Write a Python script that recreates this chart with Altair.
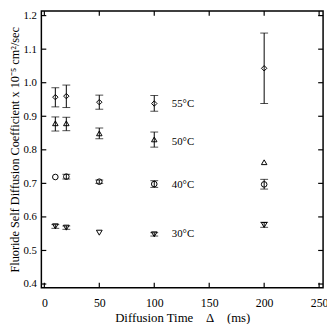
import altair as alt
import pandas as pd

# ---- data ----
times = [10, 20, 50, 100, 200]
series_names = ["55°C", "50°C", "40°C", "30°C"]
shapes = ["diamond", "triangle-up", "circle", "triangle-down"]
sizes = [30, 34, 16, 24]

y55 = [0.957, 0.960, 0.942, 0.938, 1.043]
lo55 = [0.928, 0.926, 0.921, 0.915, 0.938]
hi55 = [0.985, 0.993, 0.963, 0.962, 1.148]

y50 = [0.879, 0.879, 0.849, 0.831, 0.763]
lo50 = [0.856, 0.857, 0.833, 0.808, 0.763]
hi50 = [0.898, 0.897, 0.865, 0.853, 0.763]

y40 = [0.719, 0.720, 0.705, 0.698, 0.697]
lo40 = [0.719, 0.713, 0.700, 0.688, 0.683]
hi40 = [0.719, 0.727, 0.710, 0.708, 0.712]

y30 = [0.572, 0.568, 0.553, 0.548, 0.576]
lo30 = [0.566, 0.563, 0.553, 0.543, 0.569]
hi30 = [0.577, 0.573, 0.553, 0.553, 0.584]

label_x = 116
label_y = [0.935, 0.823, 0.695, 0.548]

x_ticks = [0, 50, 100, 150, 200, 250]
y_ticks = [0.4, 0.5, 0.6, 0.7, 0.8, 0.9, 1.0, 1.1, 1.2]

x_domain = [-2.7, 253.6]
y_domain = [0.389, 1.214]

# ---- build tables ----
rows = []
for name, ys_, los, his in zip(series_names, [y55, y50, y40, y30],
                               [lo55, lo50, lo40, lo30], [hi55, hi50, hi40, hi30]):
    for t, v, lo, hi in zip(times, ys_, los, his):
        rows.append({"series": name, "t": t, "v": v, "lo": lo, "hi": hi,
                     "has_err": hi - lo > 0.002})
df = pd.DataFrame(rows)
err = df[df["has_err"]]

labels = pd.DataFrame({"series": series_names, "t": [label_x] * 4, "v": label_y})
xt = pd.DataFrame({"t": x_ticks})
yt = pd.DataFrame({"v": y_ticks})

FONT = "Liberation Serif"
H = 282
W = 287
TL = 5
NB = "\u00a0"

xs = alt.Scale(domain=x_domain, nice=False, zero=False)
ys = alt.Scale(domain=y_domain, nice=False, zero=False)

x_axis = alt.Axis(values=x_ticks, ticks=False, domain=False, grid=False,
                  labelOverlap=False, labelFont=FONT, labelFontSize=12,
                  labelPadding=10, labelColor="black", titleFont=FONT,
                  titleFontSize=13, titleFontWeight="normal",
                  titleColor="black", titlePadding=3)
y_axis = alt.Axis(values=y_ticks, ticks=False, domain=False, grid=False,
                  labelOverlap=False, format=".1f", labelFont=FONT,
                  labelFontSize=11, labelPadding=5, labelColor="black",
                  titleFont=FONT, titleFontSize=12.5, titleFontWeight="normal",
                  titleColor="black", titlePadding=2)
x_title = "Diffusion Time" + NB * 4 + "Δ" + NB * 4 + "(ms)"
y_title = "Fluoride Self Diffusion Coefficient x 10⁻⁵ cm²/sec"


def X(field):
    return alt.X(field, scale=xs, axis=x_axis, title=x_title)


def Y(field):
    return alt.Y(field, scale=ys, axis=y_axis, title=y_title)


points = alt.Chart(df).mark_point(filled=False, color="black", strokeWidth=1, opacity=1).encode(
    x=X("t:Q"), y=Y("v:Q"),
    shape=alt.Shape("series:N", scale=alt.Scale(domain=series_names, range=shapes), legend=None),
    size=alt.Size("series:N", scale=alt.Scale(domain=series_names, range=sizes), legend=None),
)

bars = alt.Chart(err).mark_rule(color="black", strokeWidth=1).encode(
    x=X("t:Q"), y=Y("lo:Q"), y2="hi:Q")
cap_lo = alt.Chart(err).mark_tick(color="black", thickness=1, size=8, orient="horizontal").encode(
    x=X("t:Q"), y=Y("lo:Q"))
cap_hi = alt.Chart(err).mark_tick(color="black", thickness=1, size=8, orient="horizontal").encode(
    x=X("t:Q"), y=Y("hi:Q"))

text = alt.Chart(labels).mark_text(align="left", baseline="middle", font=FONT,
                                   fontSize=11, color="black").encode(
    x=X("t:Q"), y=Y("v:Q"), text="series:N")

# inward frame ticks
lt = alt.Chart(yt).mark_rule(color="black", strokeWidth=1.2).encode(
    y=Y("v:Q"), x=alt.value(0), x2=alt.value(TL))
rt = alt.Chart(yt).mark_rule(color="black", strokeWidth=1.2).encode(
    y=Y("v:Q"), x=alt.value(W - TL), x2=alt.value(W))
bt = alt.Chart(xt).mark_rule(color="black", strokeWidth=1.2).encode(
    x=X("t:Q"), y=alt.value(H - TL), y2=alt.value(H))
tt = alt.Chart(xt).mark_rule(color="black", strokeWidth=1.2).encode(
    x=X("t:Q"), y=alt.value(0), y2=alt.value(TL))

chart = alt.layer(points, lt, rt, bt, tt, bars, cap_lo, cap_hi, text).properties(
    width=W, height=H,
    autosize=alt.AutoSizeParams(type="none"),
    padding={"left": 34, "top": 0, "right": 4, "bottom": 34},
    background="white",
).configure_view(stroke="black", strokeWidth=1.5)

chart.save("out.html", embed_options={"renderer": "svg", "actions": False})
